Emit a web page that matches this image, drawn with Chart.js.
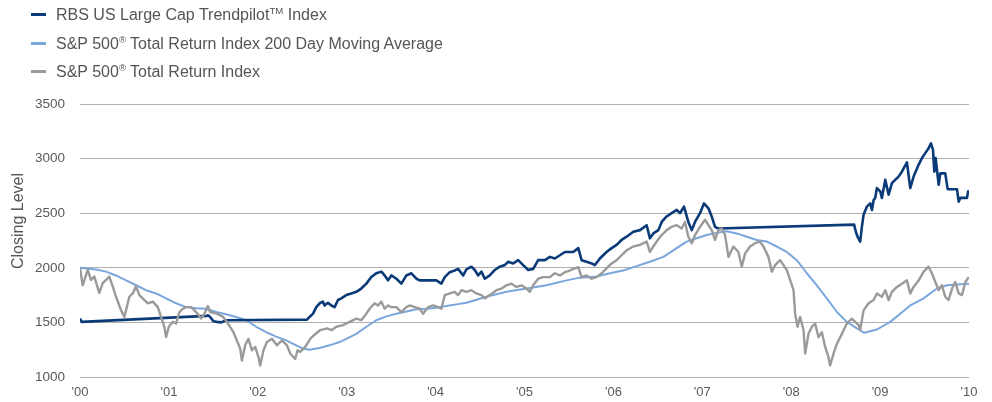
<!DOCTYPE html>
<html><head><meta charset="utf-8">
<script src="https://cdn.jsdelivr.net/npm/chart.js@4.4.1/dist/chart.umd.min.js"></script>
<style>
html,body{margin:0;padding:0;background:#fff;}
#wrap{position:relative;width:992px;height:402px;overflow:hidden;font-family:"Liberation Sans",Arial,sans-serif;}
#legend{position:absolute;left:31px;top:1px;color:#555;font-size:16px;}
.item{height:28.5px;line-height:28.5px;white-space:nowrap;}
.sw{display:inline-block;width:15px;height:3px;vertical-align:middle;margin-right:10px;position:relative;top:-1px;}
sup{font-size:60%;line-height:0;vertical-align:super;}
#ytitle{position:absolute;left:-82px;top:211px;width:200px;height:20px;line-height:20px;text-align:center;transform:rotate(-90deg);color:#555;font-size:16px;}
canvas{position:absolute;left:0;top:0;}
</style>
</head><body>
<div id="wrap">
<canvas id="c" width="992" height="402" style="width:992px;height:402px"></canvas>
<div id="legend"></div>
<div id="ytitle">Closing Level</div>
</div>
<script>
// ---- data (x in years since Jan 2000) ----
const yearLabels = ["'00","'01","'02","'03","'04","'05","'06","'07","'08","'09","'10"];
const yTickLabels = ["1000","1500","2000","2500","3000","3500"];
const seriesNames = ["RBS US Large Cap Trendpilot<sup>TM</sup> Index","S&amp;P 500<sup>®</sup> Total Return Index 200 Day Moving Average","S&amp;P 500<sup>®</sup> Total Return Index"];
const seriesPlain = ["RBS US Large Cap TrendpilotTM Index","S&P 500® Total Return Index 200 Day Moving Average","S&P 500® Total Return Index"];

const trendYears = [0.000,0.019,1.427,1.441,1.464,1.501,1.539,1.588,1.644,2.553,2.582,2.621,2.658,2.695,2.733,2.751,2.789,2.827,2.864,2.902,2.939,2.995,3.052,3.108,3.164,3.221,3.277,3.333,3.390,3.427,3.465,3.502,3.559,3.615,3.671,3.727,3.784,3.821,4.009,4.065,4.103,4.159,4.215,4.253,4.310,4.347,4.403,4.441,4.479,4.516,4.553,4.609,4.666,4.722,4.778,4.817,4.873,4.929,4.985,5.042,5.098,5.154,5.229,5.285,5.341,5.398,5.454,5.548,5.605,5.642,5.698,5.755,5.792,5.848,5.923,5.980,6.036,6.092,6.149,6.224,6.299,6.374,6.411,6.449,6.506,6.543,6.599,6.655,6.712,6.749,6.794,6.843,6.881,6.918,6.974,7.019,7.069,7.106,7.143,7.181,8.708,8.727,8.746,8.776,8.795,8.814,8.851,8.889,8.908,8.927,8.945,8.964,9.002,9.020,9.058,9.096,9.133,9.170,9.208,9.245,9.302,9.339,9.377,9.434,9.471,9.508,9.546,9.572,9.595,9.610,9.625,9.659,9.677,9.733,9.760,9.865,9.884,9.902,9.977,9.990,10.000];
const trendValues = [1535,1505,1560,1565,1550,1510,1505,1500,1520,1525,1550,1580,1640,1675,1690,1655,1680,1655,1640,1705,1720,1750,1765,1780,1810,1855,1915,1950,1965,1930,1885,1930,1900,1855,1930,1950,1900,1885,1885,1855,1915,1960,1975,1990,1930,1985,2010,1980,1930,1965,1900,1930,1980,2010,2025,2055,2040,2070,2025,1980,1990,2070,2070,2100,2085,2115,2145,2145,2180,2070,2055,2040,2025,2085,2145,2180,2210,2255,2285,2330,2345,2390,2270,2315,2345,2420,2470,2500,2530,2500,2560,2420,2345,2420,2500,2590,2545,2470,2375,2360,2395,2330,2285,2240,2375,2485,2560,2590,2530,2620,2640,2730,2700,2640,2805,2670,2775,2805,2835,2880,2965,2730,2835,2945,3005,3050,3095,3140,3080,2880,3005,2760,2865,2865,2720,2720,2605,2640,2640,2700,2685];

const maYears = [0,0.180,0.293,0.405,0.518,0.631,0.743,0.856,0.968,1.081,1.194,1.306,1.419,1.532,1.644,1.757,1.869,1.982,2.095,2.207,2.320,2.432,2.508,2.582,2.695,2.807,2.920,2.995,3.108,3.221,3.333,3.446,3.559,3.671,3.784,3.896,4.009,4.122,4.234,4.347,4.572,4.797,5.023,5.248,5.473,5.623,5.811,5.961,6.111,6.261,6.411,6.562,6.712,6.824,6.937,7.050,7.162,7.275,7.387,7.500,7.613,7.725,7.838,7.950,8.063,8.176,8.288,8.401,8.514,8.626,8.739,8.821,8.964,9.114,9.226,9.339,9.490,9.640,9.752,9.902,10.000];
const maValues = [2000,1985,1965,1930,1885,1840,1795,1765,1720,1675,1640,1630,1625,1595,1575,1550,1520,1460,1410,1370,1335,1290,1260,1250,1265,1290,1320,1350,1395,1460,1520,1555,1580,1600,1620,1625,1635,1650,1665,1680,1735,1780,1810,1840,1885,1910,1920,1950,1975,2015,2055,2100,2180,2240,2270,2300,2320,2335,2315,2285,2255,2240,2195,2145,2070,1950,1840,1720,1595,1505,1445,1405,1435,1505,1580,1655,1720,1810,1840,1850,1855];

const spxYears = [0.000,0.030,0.087,0.124,0.161,0.217,0.256,0.330,0.368,0.405,0.462,0.499,0.537,0.555,0.593,0.631,0.668,0.706,0.762,0.819,0.875,0.912,0.949,0.968,0.999,1.044,1.081,1.118,1.157,1.194,1.250,1.306,1.363,1.400,1.438,1.464,1.539,1.610,1.652,1.726,1.802,1.821,1.858,1.895,1.934,1.971,2.008,2.027,2.064,2.103,2.159,2.215,2.271,2.328,2.365,2.421,2.447,2.477,2.534,2.590,2.627,2.703,2.778,2.834,2.883,2.958,3.033,3.108,3.164,3.221,3.258,3.314,3.353,3.390,3.427,3.465,3.502,3.559,3.615,3.671,3.708,3.765,3.821,3.859,3.916,3.972,4.028,4.065,4.103,4.159,4.215,4.253,4.291,4.347,4.403,4.459,4.516,4.553,4.609,4.685,4.741,4.797,4.854,4.910,4.966,5.023,5.060,5.098,5.154,5.211,5.285,5.341,5.398,5.454,5.510,5.548,5.605,5.642,5.698,5.755,5.811,5.867,5.923,5.980,6.036,6.092,6.149,6.224,6.299,6.374,6.411,6.449,6.486,6.543,6.599,6.655,6.712,6.768,6.805,6.843,6.881,6.918,6.974,7.031,7.069,7.106,7.143,7.181,7.219,7.256,7.294,7.350,7.406,7.444,7.481,7.537,7.594,7.650,7.688,7.744,7.782,7.819,7.875,7.913,7.950,7.988,8.026,8.044,8.071,8.100,8.139,8.157,8.195,8.232,8.269,8.307,8.345,8.382,8.420,8.438,8.476,8.514,8.570,8.626,8.682,8.720,8.758,8.776,8.814,8.870,8.927,8.964,9.020,9.058,9.096,9.133,9.189,9.245,9.302,9.339,9.377,9.434,9.490,9.546,9.583,9.621,9.659,9.696,9.733,9.771,9.809,9.846,9.884,9.921,9.959,9.997];
const spxValues = [2000,1840,1980,1890,1920,1770,1860,1920,1830,1735,1610,1550,1675,1735,1765,1830,1750,1720,1675,1690,1640,1550,1460,1365,1460,1505,1490,1595,1625,1640,1640,1595,1535,1580,1650,1595,1580,1550,1505,1410,1260,1150,1290,1350,1245,1275,1180,1105,1245,1320,1350,1290,1335,1290,1215,1165,1245,1230,1275,1350,1380,1430,1445,1430,1460,1475,1505,1535,1520,1580,1625,1675,1655,1690,1625,1655,1640,1640,1595,1640,1655,1640,1625,1580,1640,1655,1640,1625,1750,1765,1780,1750,1795,1780,1795,1765,1750,1720,1750,1795,1810,1840,1855,1825,1840,1810,1780,1840,1900,1915,1915,1950,1930,1960,1975,1990,2005,1915,1930,1900,1915,1950,1995,2040,2070,2115,2160,2195,2210,2240,2145,2195,2240,2300,2345,2375,2390,2360,2420,2285,2225,2300,2375,2440,2390,2345,2255,2345,2360,2300,2100,2195,2145,2010,2130,2195,2225,2240,2195,2100,1965,2025,2070,2025,1980,1890,1795,1580,1460,1550,1430,1215,1395,1460,1490,1365,1410,1275,1180,1105,1215,1305,1395,1490,1535,1505,1475,1430,1610,1675,1705,1765,1735,1795,1705,1780,1825,1855,1885,1765,1825,1885,1965,2010,1950,1870,1795,1840,1735,1705,1810,1870,1765,1750,1870,1915];

const seriesColors = ["#0b3a78","#7aa6de","#9a9a9a"];

// ---- legend (HTML text) ----
const lg = document.getElementById('legend');
seriesNames.forEach((n,i)=>{
  const d = document.createElement('div');
  d.className='item';
  d.innerHTML = '<span class="sw" style="background:'+seriesColors[i]+'"></span>'+n;
  lg.appendChild(d);
});

function pts(xs, ys){ return xs.map((x,i)=>({x:x, y:ys[i]})); }

new Chart(document.getElementById('c'), {
  type:'line',
  data:{
    datasets:[
      {label:seriesPlain[0], data:pts(trendYears,trendValues), borderColor:seriesColors[0], borderWidth:2.6, order:2},
      {label:seriesPlain[1], data:pts(maYears,maValues), borderColor:seriesColors[1], borderWidth:2, order:3},
      {label:seriesPlain[2], data:pts(spxYears,spxValues), borderColor:seriesColors[2], borderWidth:2.4, order:1}
    ]
  },
  options:{
    responsive:false, animation:false, devicePixelRatio:1,
    layout:{padding:{left:0,right:23,top:104,bottom:3}},
    elements:{point:{radius:0}, line:{tension:0, fill:false, borderJoinStyle:'round'}},
    plugins:{legend:{display:false}, tooltip:{enabled:false}},
    scales:{
      x:{type:'linear', min:0, max:10,
        ticks:{stepSize:1, autoSkip:false, maxRotation:0, padding:8, color:'#595959',
          font:{family:'"Liberation Sans", Arial, sans-serif', size:13},
          callback:(v)=>yearLabels[Math.round(v)]},
        grid:{display:false, drawTicks:false}, border:{display:false},
        afterFit:(s)=>{s.height=22;}},
      y:{min:1000, max:3500,
        ticks:{stepSize:500, padding:15, color:'#595959',
          font:{family:'"Liberation Sans", Arial, sans-serif', size:13.5},
          callback:(v)=>yTickLabels[Math.round((v-1000)/500)]},
        grid:{color:'#b0b0b0', lineWidth:1, drawTicks:false}, border:{display:false},
        afterFit:(s)=>{s.width=80;}}
    }
  }
});
</script>
</body></html>
